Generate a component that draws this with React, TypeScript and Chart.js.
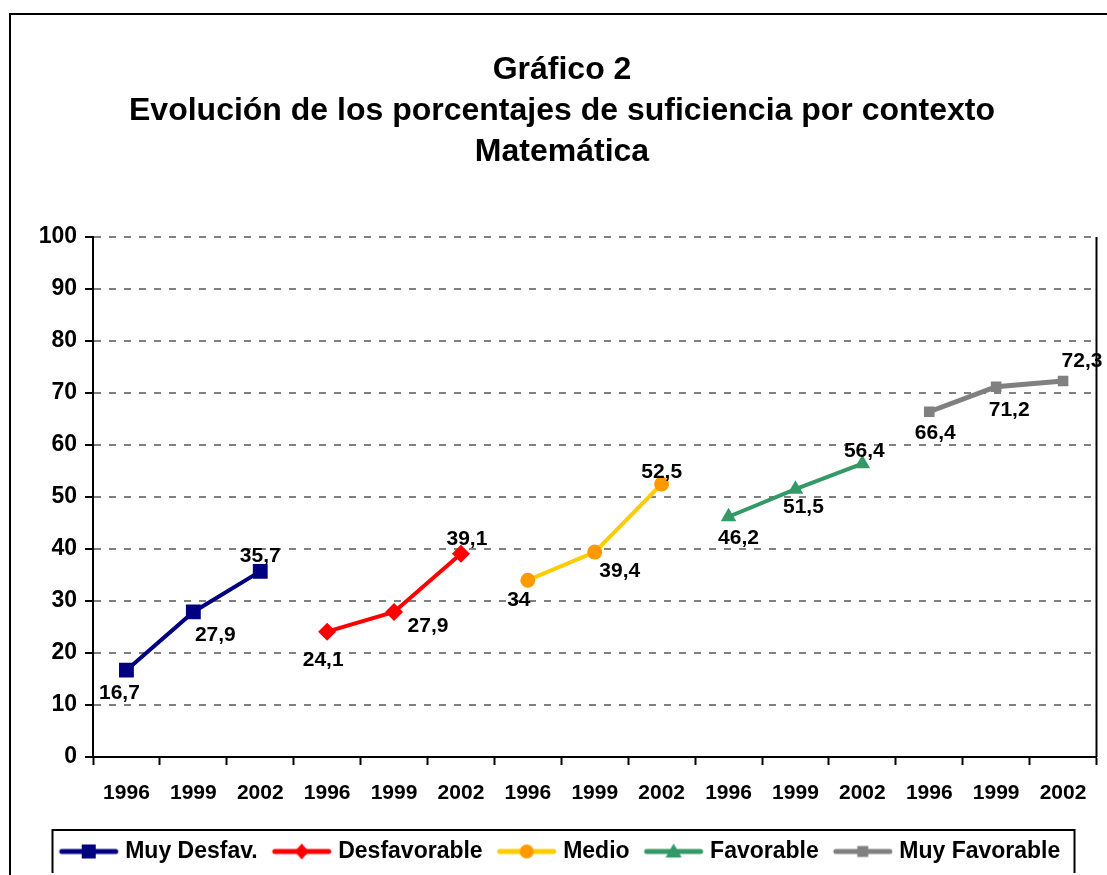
import React, { useEffect, useRef } from "react";
import { Chart, registerables } from "chart.js";

Chart.register(...registerables);

const categories = [
  "1996", "1999", "2002",
  "1996", "1999", "2002",
  "1996", "1999", "2002",
  "1996", "1999", "2002",
  "1996", "1999", "2002",
];

const seriesNames = ["Muy Desfav.", "Desfavorable", "Medio", "Favorable", "Muy Favorable"];

const muyDesfav = [16.7, 27.9, 35.7, null, null, null, null, null, null, null, null, null, null, null, null];
const desfavorable = [null, null, null, 24.1, 27.9, 39.1, null, null, null, null, null, null, null, null, null];
const medio = [null, null, null, null, null, null, 34, 39.4, 52.5, null, null, null, null, null, null];
const favorable = [null, null, null, null, null, null, null, null, null, 46.2, 51.5, 56.4, null, null, null];
const muyFavorable = [null, null, null, null, null, null, null, null, null, null, null, null, 66.4, 71.2, 72.3];

const yTicks = [0, 10, 20, 30, 40, 50, 60, 70, 80, 90, 100];

// styling
const lineColors = ["#000080", "#FF0000", "#FFCC00", "#339966", "#808080"];
const markerColors = ["#000080", "#FF0000", "#FF9900", "#339966", "#808080"];
const markerStyles = ["rect", "rectRot", "circle", "triangle", "rect"];
const markerRadius = [10.5, 9, 7.5, 9, 7.5];
const lineWidths = [4, 4, 4, 4, 5];
// label offsets (dx, dy) relative to each point, for the 3 points of each series
const labelOffsets = [
  [[-7, 23], [22, 23], [0, -15]],
  [[-4, 29], [34, 14], [6, -14]],
  [[-9, 20], [25, 19], [0, -12]],
  [[10, 21], [8, 18], [2, -13]],
  [[6, 21], [13, 23], [19, -20]],
];

const FONT = "'Liberation Sans', Arial, Helvetica, sans-serif";

function makeLegendImage(i: number): HTMLCanvasElement {
  const c = document.createElement("canvas");
  c.width = 62;
  c.height = 22;
  const ctx = c.getContext("2d")!;
  ctx.strokeStyle = lineColors[i];
  ctx.lineWidth = 5;
  ctx.lineCap = "round";
  ctx.beginPath();
  ctx.moveTo(4, 11);
  ctx.lineTo(58, 11);
  ctx.stroke();
  ctx.fillStyle = markerColors[i];
  const cx = 31, cy = 11;
  const s = markerStyles[i];
  ctx.beginPath();
  if (s === "rect") {
    const h = i === 0 ? 7 : 5.5;
    ctx.rect(cx - h, cy - h, 2 * h, 2 * h);
  } else if (s === "rectRot") {
    ctx.moveTo(cx, cy - 8);
    ctx.lineTo(cx + 7, cy);
    ctx.lineTo(cx, cy + 8);
    ctx.lineTo(cx - 7, cy);
    ctx.closePath();
  } else if (s === "circle") {
    ctx.arc(cx, cy, 7, 0, Math.PI * 2);
  } else if (s === "triangle") {
    ctx.moveTo(cx, cy - 8);
    ctx.lineTo(cx + 8, cy + 6);
    ctx.lineTo(cx - 8, cy + 6);
    ctx.closePath();
  }
  ctx.fill();
  return c;
}

const extrasPlugin = {
  id: "extras",
  afterDatasetsDraw(chart: any) {
    const ctx = chart.ctx;
    ctx.save();
    ctx.font = `bold 21px ${FONT}`;
    ctx.fillStyle = "#000";
    ctx.textAlign = "center";
    ctx.textBaseline = "middle";
    chart.data.datasets.forEach((ds: any, di: number) => {
      const meta = chart.getDatasetMeta(di);
      let k = 0;
      ds.data.forEach((v: number | null, idx: number) => {
        if (v === null || v === undefined) return;
        const el = meta.data[idx];
        const off = labelOffsets[di][k] || [0, -14];
        ctx.fillText(String(v).replace(".", ","), el.x + off[0], el.y + off[1]);
        k++;
      });
    });
    ctx.restore();
  },
  afterDraw(chart: any) {
    const ctx = chart.ctx;
    const a = chart.chartArea;
    ctx.save();
    // right plot border
    ctx.strokeStyle = "#000";
    ctx.lineWidth = 2;
    ctx.beginPath();
    ctx.moveTo(a.right, a.top);
    ctx.lineTo(a.right, a.bottom);
    ctx.stroke();
    // legend frame
    const lg = chart.legend;
    if (lg && lg.legendHitBoxes && lg.legendHitBoxes.length) {
      let minX = Infinity, maxX = -Infinity, minY = Infinity, maxY = -Infinity;
      lg.legendHitBoxes.forEach((b: any) => {
        minX = Math.min(minX, b.left);
        maxX = Math.max(maxX, b.left + b.width);
        minY = Math.min(minY, b.top);
        maxY = Math.max(maxY, b.top + b.height);
      });
      const cy = (minY + maxY) / 2;
      ctx.lineWidth = 2;
      ctx.strokeRect(Math.round(minX - 12) + 0.5, Math.round(cy - 22), Math.round(maxX - minX + 25), 44);
    }
    ctx.restore();
  },
};

export default function App() {
  const ref = useRef<HTMLCanvasElement | null>(null);

  useEffect(() => {
    if (!ref.current) return;
    const all = [muyDesfav, desfavorable, medio, favorable, muyFavorable];
    const legendImages = seriesNames.map((_, i) => makeLegendImage(i));
    const chart = new Chart(ref.current, {
      type: "line",
      data: {
        labels: categories,
        datasets: all.map((d, i) => ({
          label: seriesNames[i],
          data: d,
          borderColor: lineColors[i],
          backgroundColor: markerColors[i],
          borderWidth: lineWidths[i],
          pointStyle: markerStyles[i] as any,
          pointRadius: markerRadius[i],
          pointBackgroundColor: markerColors[i],
          pointBorderColor: markerColors[i],
          pointBorderWidth: 0,
          spanGaps: false,
          tension: 0,
        })),
      },
      options: {
        responsive: false,
        animation: false,
        layout: { padding: { left: 20, right: 3, top: 0, bottom: 0 } },
        plugins: {
          title: {
            display: true,
            text: [
              "Gráfico 2",
              "Evolución de los porcentajes de suficiencia por contexto",
              "Matemática",
            ],
            color: "#000",
            font: { family: FONT, size: 32, weight: "bold", lineHeight: 41 / 32 },
            padding: { top: 50, bottom: 64 },
          },
          legend: {
            display: true,
            position: "bottom",
            labels: {
              usePointStyle: true,
              pointStyleWidth: 50,
              boxHeight: 23,
              padding: 19,
              color: "#000",
              font: { family: FONT, size: 23, weight: "bold" },
              generateLabels: () =>
                seriesNames.map((n, i) => ({
                  text: n,
                  pointStyle: legendImages[i] as any,
                  fillStyle: markerColors[i],
                  strokeStyle: lineColors[i],
                  lineWidth: 0,
                  hidden: false,
                  datasetIndex: i,
                })),
            },
          },
          tooltip: { enabled: false },
        },
        scales: {
          x: {
            type: "category",
            offset: true,
            grid: {
              offset: true,
              drawOnChartArea: false,
              drawTicks: true,
              tickLength: 8,
              tickColor: "#000",
              tickWidth: 2,
            },
            border: { display: true, color: "#000", width: 2 },
            ticks: {
              color: "#000",
              padding: 16,
              maxRotation: 0,
              autoSkip: false,
              font: { family: FONT, size: 21, weight: "bold" },
            },
            afterFit: (s: any) => {
              s.height = 64;
            },
          },
          y: {
            min: 0,
            max: 100,
            afterBuildTicks: (s: any) => {
              const t: any[] = [];
              yTicks.forEach((v, i) => {
                t.push({ value: v });
                if (i < yTicks.length - 1) t.push({ value: v + 5 });
              });
              s.ticks = t;
            },
            grid: {
              drawTicks: true,
              tickLength: 8,
              tickColor: "#000",
              tickWidth: 2,
              lineWidth: 2,
              color: (c: any) =>
                c.tick && yTicks.includes(c.tick.value) && c.tick.value !== 0 ? "#808080" : "rgba(0,0,0,0)",
            },
            border: { display: true, color: "#000", width: 2, dash: [7, 8] },
            ticks: {
              color: "#000",
              padding: 8,
              font: { family: FONT, size: 23, weight: "bold" },
              callback: (v: any) => (yTicks.includes(Number(v)) ? String(v) : ""),
            },
            afterFit: (s: any) => {
              s.width = 73;
            },
          },
        },
      },
      plugins: [extrasPlugin],
    });
    return () => chart.destroy();
  }, []);

  return (
    <div
      style={{
        position: "fixed",
        left: 0,
        top: 0,
        width: 1107,
        height: 875,
        background: "#fff",
        overflow: "hidden",
      }}
    >
      <div
        style={{
          position: "absolute",
          left: 9,
          top: 13,
          width: 1120,
          height: 900,
          border: "2px solid #000",
          boxSizing: "border-box",
        }}
      />
      <canvas
        ref={ref}
        width={1107}
        height={873}
        style={{ position: "absolute", left: 0, top: 0, width: 1107, height: 873 }}
      />
    </div>
  );
}
